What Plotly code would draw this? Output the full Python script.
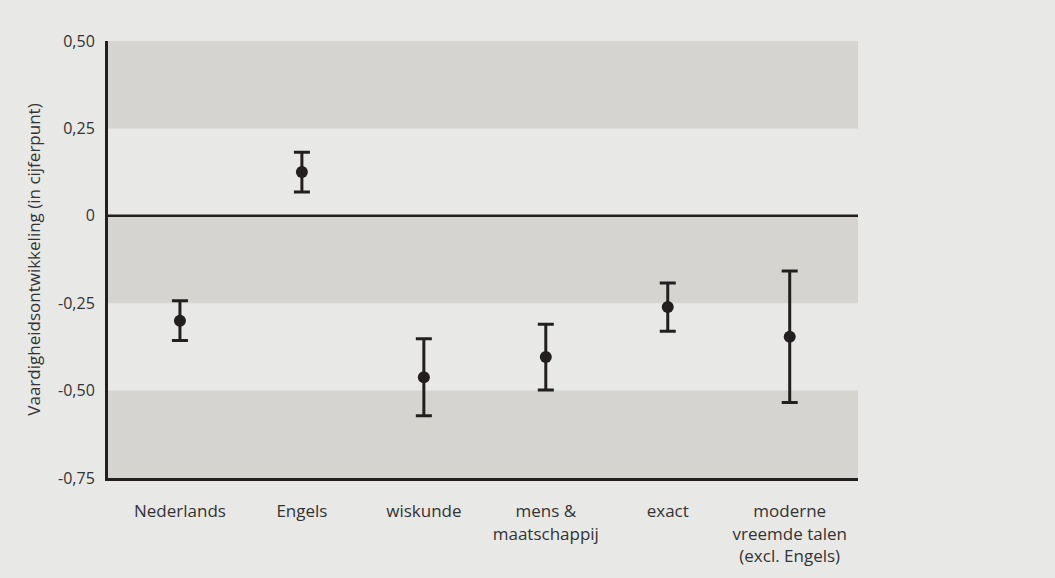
import plotly.graph_objects as go

categories = ["Nederlands", "Engels", "wiskunde", "mens &<br>maatschappij", "exact",
              "moderne<br>vreemde talen<br>(excl. Engels)"]
values = [-0.300, 0.125, -0.462, -0.404, -0.261, -0.346]
errors = [0.057, 0.057, 0.110, 0.094, 0.069, 0.188]
y_ticks = [0.5, 0.25, 0, -0.25, -0.5, -0.75]
y_ticktext = ["0,50", "0,25", "0", "-0,25", "-0,50", "-0,75"]
bands = [(0.25, 0.5), (-0.25, 0.0), (-0.75, -0.5)]

x_idx = list(range(len(categories)))
ink = "#231f20"
bg = "#e8e8e7"

fig = go.Figure()
fig.add_trace(go.Scatter(
    x=x_idx, y=values, mode="markers",
    marker=dict(size=12, color=ink),
    error_y=dict(type="data", array=errors, visible=True, color=ink, thickness=3, width=8),
    showlegend=False, hoverinfo="skip",
))

shapes = []
for lo, hi in bands:
    shapes.append(dict(type="rect", xref="paper", yref="y", x0=0, x1=1, y0=lo, y1=hi,
                       fillcolor="#d5d4d1", line=dict(width=0), layer="below"))
shapes.append(dict(type="line", xref="paper", yref="y", x0=0, x1=1, y0=0, y1=0,
                   line=dict(color=ink, width=2.5), layer="above"))

fig.update_layout(
    width=1055, height=578,
    margin=dict(l=108, r=197, t=41, b=100),
    paper_bgcolor=bg, plot_bgcolor=bg,
    font=dict(family="Open Sans, Noto Sans, sans-serif", size=17, color="#333333"),
    shapes=shapes,
    xaxis=dict(
        range=[-0.59, 5.56], tickmode="array", tickvals=x_idx, ticktext=categories,
        showgrid=False, zeroline=False, showline=True, linecolor=ink, linewidth=3,
        ticks="", ticklabelstandoff=16, tickfont=dict(size=17, color="#333333"),
    ),
    yaxis=dict(
        range=[-0.75, 0.5], tickmode="array", tickvals=y_ticks, ticktext=y_ticktext,
        showgrid=False, zeroline=False, showline=True, linecolor=ink, linewidth=3,
        ticks="", ticklabelstandoff=7, tickfont=dict(size=16, color="#333333"),
        title=dict(text="Vaardigheidsontwikkeling (in cijferpunt)", standoff=14,
                   font=dict(size=17, color="#333333")),
    ),
)

fig.write_html(
    "out.html",
    config={"displayModeBar": False},
    post_script="document.body.style.margin='0';document.body.style.background='%s';" % bg,
)
